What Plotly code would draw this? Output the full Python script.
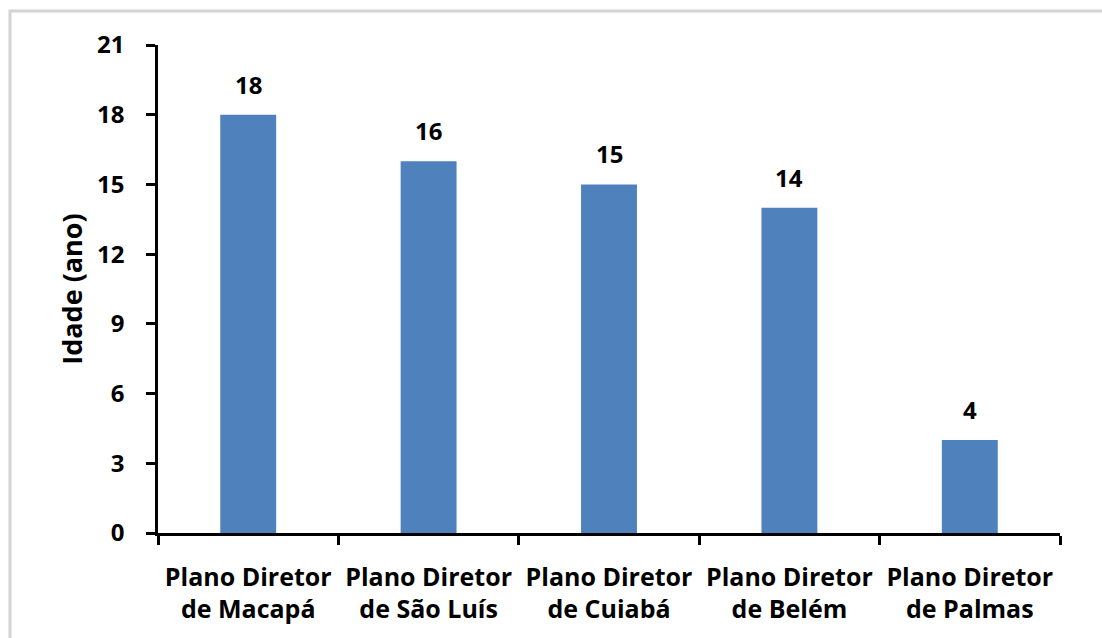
import plotly.graph_objects as go

categories = ["Plano Diretor<br>de Macapá", "Plano Diretor<br>de São Luís", "Plano Diretor<br>de Cuiabá",
              "Plano Diretor<br>de Belém", "Plano Diretor<br>de Palmas"]
values = [18, 16, 15, 14, 4]
y_ticks = [0, 3, 6, 9, 12, 15, 18, 21]

FONT = "Open Sans"
fig = go.Figure()
fig.add_trace(go.Bar(x=categories, y=values, marker=dict(color="#4F81BD", line=dict(width=0)),
                     width=0.31, showlegend=False))

for c, v in zip(categories, values):
    fig.add_annotation(x=c, y=v, text=str(v), showarrow=False, yanchor="bottom", yshift=12,
                       font=dict(family=FONT, size=24, color="#000000", weight="bold"))

W, H = 1102, 638
l, r, t, b = 158, 42, 45, 105
pw, ph = W - l - r, H - t - b
fig.add_shape(type="rect", xref="paper", yref="paper",
              x0=(10 - l) / pw, x1=(1110 - l) / pw, y0=(t + ph - 645) / ph, y1=(t + ph - 11) / ph,
              line=dict(color="#d4d4d4", width=3), fillcolor="rgba(0,0,0,0)", layer="below")

fig.update_layout(
    width=W, height=H, margin=dict(l=l, r=r, t=t, b=b),
    paper_bgcolor="white", plot_bgcolor="white",
    font=dict(family=FONT, color="#000000"),
    xaxis=dict(showline=True, linecolor="black", linewidth=2.5, ticks="outside", tickson="boundaries",
               ticklen=9, tickwidth=2.5, tickcolor="black", showgrid=False,
               tickfont=dict(family=FONT, size=25, weight="bold"), ticklabelstandoff=20),
    yaxis=dict(range=[0, 21], tickvals=y_ticks, showline=True, linecolor="black", linewidth=2.5,
               ticks="outside", ticklen=9, tickwidth=2.5, tickcolor="black", showgrid=False, zeroline=False,
               tickfont=dict(family=FONT, size=24, weight="bold"), ticklabelstandoff=17,
               title=dict(text="Idade (ano)", font=dict(family=FONT, size=27, weight="bold"), standoff=7)),
)
fig.write_html("out.html")
